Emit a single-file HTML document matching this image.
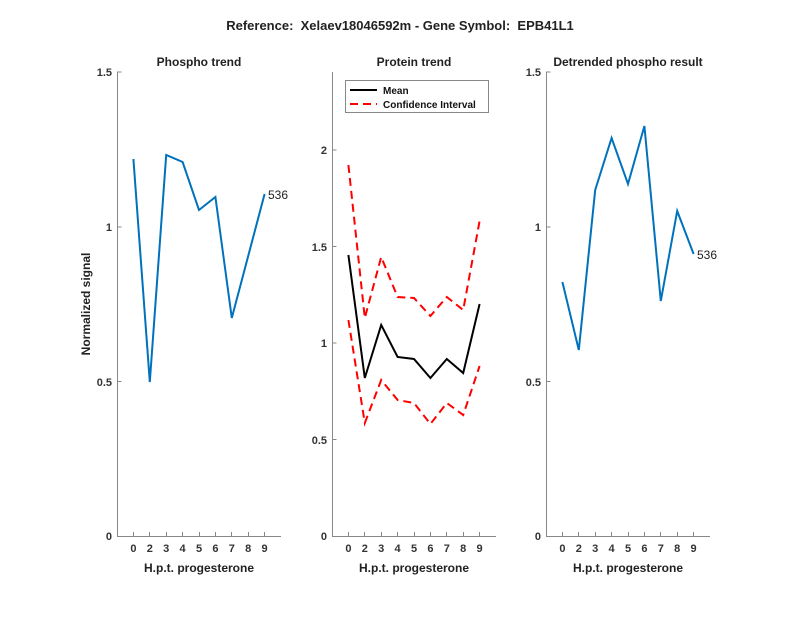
<!DOCTYPE html>
<html><head><style>body{margin:0;background:#fff}svg{display:block;font-family:"Liberation Sans",sans-serif}</style></head><body>
<svg width="800" height="618" viewBox="0 0 800 618">
<text x="400" y="30" text-anchor="middle" font-size="13" font-weight="bold" fill="#222">Reference:&#160; Xelaev18046592m - Gene Symbol:&#160; EPB41L1</text>
<g font-size="12" font-weight="bold" fill="#222" text-anchor="middle">
<text x="199" y="66">Phospho trend</text>
<text x="414" y="66">Protein trend</text>
<text x="628" y="66">Detrended phospho result</text>
<text x="199" y="572">H.p.t. progesterone</text>
<text x="414" y="572">H.p.t. progesterone</text>
<text x="628" y="572">H.p.t. progesterone</text>
<text transform="translate(90,304) rotate(-90)">Normalized signal</text>
</g>
<g stroke="#888" stroke-width="1" fill="none">
<path d="M121.5,72H117.5V536.5H281M117.5,227H121.5M117.5,381.5H121.5"/>
<path d="M332.5,72V536.5H496M332.5,150H336.5M332.5,246.5H336.5M332.5,343H336.5M332.5,439.5H336.5"/>
<path d="M550.5,72H546.5V536.5H710M546.5,227H550.5M546.5,381.5H550.5"/>
<path d="M133.5,536v-4M149.5,536v-4M166.5,536v-4M182.5,536v-4M199.5,536v-4M215.5,536v-4M231.5,536v-4M248.5,536v-4M264.5,536v-4"/>
<path d="M348.5,536v-4M364.5,536v-4M381.5,536v-4M397.5,536v-4M414.5,536v-4M430.5,536v-4M446.5,536v-4M463.5,536v-4M479.5,536v-4"/>
<path d="M562.5,536v-4M578.5,536v-4M595.5,536v-4M611.5,536v-4M628.5,536v-4M644.5,536v-4M660.5,536v-4M677.5,536v-4M693.5,536v-4"/>
</g>
<g font-size="11" font-weight="bold" fill="#333" text-anchor="end">
<text x="112" y="76">1.5</text><text x="112" y="231">1</text><text x="112" y="386">0.5</text><text x="112" y="540">0</text>
<text x="327" y="154">2</text><text x="327" y="251">1.5</text><text x="327" y="347">1</text><text x="327" y="444">0.5</text><text x="327" y="540">0</text>
<text x="541" y="76">1.5</text><text x="541" y="231">1</text><text x="541" y="386">0.5</text><text x="541" y="540">0</text>
</g>
<g font-size="11" font-weight="bold" fill="#333" text-anchor="middle">
<text x="133.4" y="552">0</text><text x="149.8" y="552">2</text><text x="166.2" y="552">3</text><text x="182.6" y="552">4</text><text x="199" y="552">5</text><text x="215.4" y="552">6</text><text x="231.8" y="552">7</text><text x="248.2" y="552">8</text><text x="264.6" y="552">9</text>
<text x="348.4" y="552">0</text><text x="364.8" y="552">2</text><text x="381.2" y="552">3</text><text x="397.6" y="552">4</text><text x="414" y="552">5</text><text x="430.4" y="552">6</text><text x="446.8" y="552">7</text><text x="463.2" y="552">8</text><text x="479.6" y="552">9</text>
<text x="562.4" y="552">0</text><text x="578.8" y="552">2</text><text x="595.2" y="552">3</text><text x="611.6" y="552">4</text><text x="628" y="552">5</text><text x="644.4" y="552">6</text><text x="660.8" y="552">7</text><text x="677.2" y="552">8</text><text x="693.6" y="552">9</text>
</g>
<g fill="none" stroke-width="2">
<polyline stroke="#0072BD" points="133.4,159 149.8,382 166.2,155 182.6,162 199,210 215.4,197 231.8,318 248.2,256 264.6,194"/>
<polyline stroke="#0072BD" points="562.4,282 578.8,350 595.2,190 611.6,138 628,184 644.4,126 660.8,301 677.2,211 693.6,254"/>
<polyline stroke="#000" points="348.4,255 364.8,378 381.2,325 397.6,357 414,359 430.4,378 446.8,359 463.2,373 479.6,304"/>
<polyline stroke="#f00" stroke-dasharray="8,5" points="348.4,165 364.8,318 381.2,257 397.6,297 414,298 430.4,316 446.8,297 463.2,310 479.6,221"/>
<polyline stroke="#f00" stroke-dasharray="8,5" points="348.4,320 364.8,423 381.2,380 397.6,400 414,403 430.4,424 446.8,403 463.2,415 479.6,366"/>
</g>
<text x="268" y="199" font-size="12" fill="#222">536</text>
<text x="697" y="259" font-size="12" fill="#222">536</text>
<rect x="345.5" y="80.5" width="143" height="32" fill="#fff" stroke="#888"/>
<path d="M350,90H377" stroke="#000" stroke-width="2"/>
<path d="M350,104H377" stroke="#f00" stroke-width="2" stroke-dasharray="8,5"/>
<g font-size="10" font-weight="bold" fill="#111"><text x="383" y="94">Mean</text><text x="383" y="108">Confidence Interval</text></g>
</svg>
</body></html>
